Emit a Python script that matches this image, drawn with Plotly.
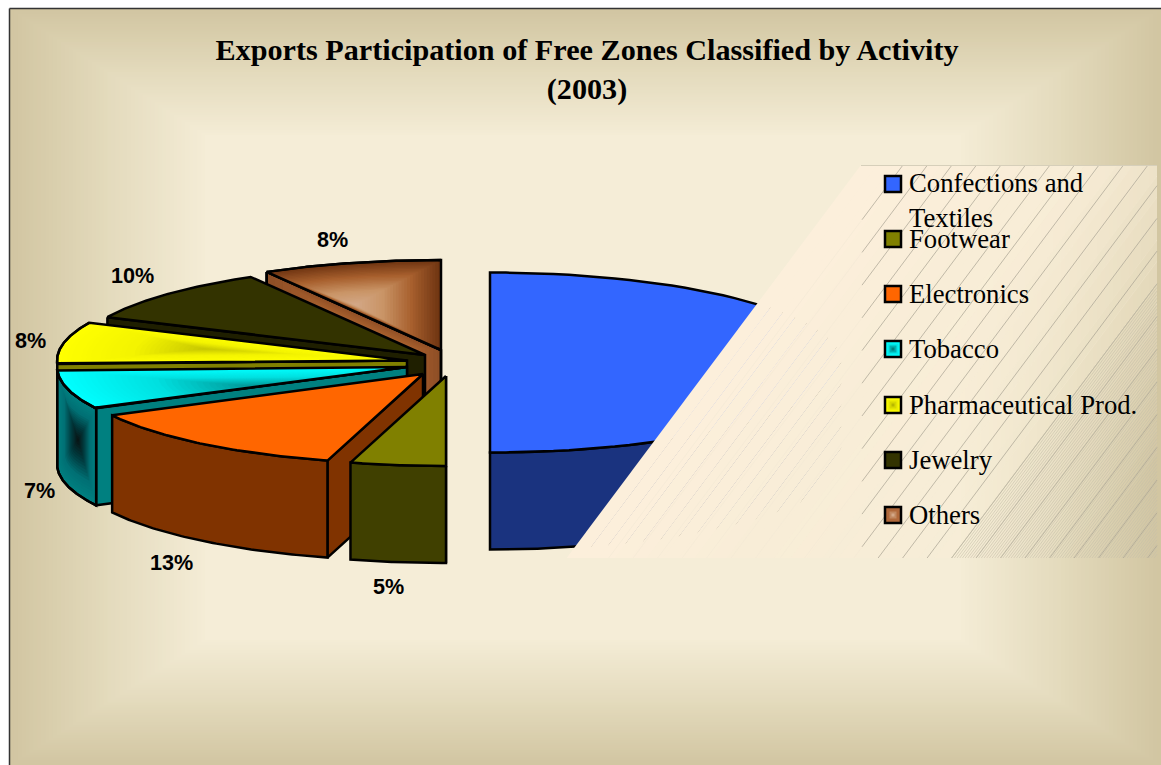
import numpy as np
import plotly.graph_objects as go

TITLE = "<b>Exports Participation of Free Zones Classified by Activity<br>(2003)</b>"
CATEGORIES = ["Confections and<br>Textiles", "Footwear", "Electronics", "Tobacco",
              "Pharmaceutical Prod.", "Jewelry", "Others"]
VALUES = [50.0, 4.4, 13.0, 7.0, 7.5, 9.8, 8.3]
VALUE_LABELS = ["", "5%", "13%", "7%", "8%", "10%", "8%"]

# styles and placement
TOP = ["#3366ff", "#808000", "#ff6600", "#00ffff", "#ffff00", "#333300", "#a8602e"]
SIDE = ["#1a337f", "#404000", "#803300", "#008080", "#808000", "#1f1f00", "#8f4f26"]
APEX = [(490, 362.5), (446, 376), (423, 374), (407, 367), (407, 360.5), (425, 355), (441, 350)]
LABEL_XY = [None, (388, 586), (171, 562), (39, 490), (30, 340), (132, 275), (332, 239)]
SWATCH_Y = [184, 239, 294, 349, 405, 460, 515]
LEGEND_TEXT_Y = [200, 239, 294, 349, 405, 460, 515]
RX, RY, DEPTH = 350, 90, 97
W, H = 1161, 765


def hexrgb(c):
    return np.array([int(c[i:i + 2], 16) for i in (1, 3, 5)], float)


def mix(stops, t):
    n = len(stops) - 1
    i = min(int(t * n), n - 1)
    f = t * n - i
    c = hexrgb(stops[i]) * (1 - f) + hexrgb(stops[i + 1]) * f
    return "rgb(%d,%d,%d)" % tuple(c)


fig = go.Figure()


def poly(xs, ys, fill, line=True, width=2.5):
    fig.add_trace(go.Scatter(x=list(xs), y=list(ys), mode="lines", fill="toself", fillcolor=fill,
                             line=dict(color="black" if line else "rgba(0,0,0,0)",
                                       width=width if line else 0),
                             hoverinfo="skip", showlegend=False))


def shaded(xs, ys, center, stops, n=30):
    xs, ys = np.asarray(xs, float), np.asarray(ys, float)
    poly(xs, ys, stops[0])
    for k in range(1, n + 1):
        s = 1 - k / (n + 0.5)
        poly(center[0] + (xs - center[0]) * s, center[1] + (ys - center[1]) * s,
             mix(stops, k / n), line=False)
    poly(list(xs) + [xs[0]], list(ys) + [ys[0]], "rgba(0,0,0,0)")


def rim(i, t0, t1, dy=0, n=70):
    th = np.radians(np.linspace(t0, t1, n))
    return APEX[i][0] + RX * np.sin(th), APEX[i][1] - RY * np.cos(th) + dy


# background: rectangular path gradient
shapes = []
NB = 50
for k in range(NB + 1):
    t = k / NB
    shapes.append(dict(type="rect", layer="below", xref="x", yref="y",
                       x0=10 + 195 * t, x1=W - 200 * t, y0=9 + 126 * t, y1=H - 125 * t,
                       line=dict(width=0), fillcolor=mix(["#d2c6a2", "#e4dbbd", "#f5edd7"], t)))
shapes.append(dict(type="line", xref="x", yref="y", x0=9.5, x1=9.5, y0=8.5, y1=H,
                   line=dict(color="#333333", width=1.5)))
shapes.append(dict(type="line", xref="x", yref="y", x0=9.5, x1=W, y0=8.5, y1=8.5,
                   line=dict(color="#333333", width=1.5)))

# pie, from back to front
total = sum(VALUES)
edges = np.concatenate([[0], np.cumsum(VALUES)]) * 360.0 / total
for i in [0, 6, 5, 4, 3, 2, 1]:
    t0, t1 = edges[i], edges[i + 1]
    ax, ay = APEX[i]
    rx0, ry0 = rim(i, t0, t0, n=1)
    wx = [rx0[0], rx0[0], ax, ax]
    wy = [ry0[0], ry0[0] + DEPTH, ay + DEPTH, ay]
    if i > 0:
        if i == 6:
            shaded(wx, wy, (385, 345), ["#8f4f26", "#a8602e", "#c88f62"], n=14)
        else:
            poly(wx + wx[:1], wy + wy[:1], SIDE[i])
    a, b = max(t0, 90), min(t1, 270)
    if a < b and i != 4:
        ox, oy = rim(i, a, b)
        ox2, oy2 = rim(i, a, b, dy=DEPTH)
        xs = np.concatenate([ox, ox2[::-1]])
        ys = np.concatenate([oy, oy2[::-1]])
        if i == 3:
            shaded(xs, ys, (78, 440), ["#008080", "#007074", "#003c40", "#0a1414"], n=18)
        else:
            poly(list(xs) + [xs[0]], list(ys) + [ys[0]], SIDE[i])
    tx, ty = rim(i, t0, t1)
    xs = np.concatenate([[ax], tx])
    ys = np.concatenate([[ay], ty])
    if i == 6:
        shaded(xs, ys, (355, 305), ["#6f3512", "#a8602e", "#c99466", "#d4a888"])
    elif i == 4:
        shaded(xs, ys, (205, 349), ["#ffff00", "#f4f400", "#c8c800"])
    elif i == 3:
        shaded(xs, ys, (250, 386), ["#00ffff", "#00e0e0", "#009898"])
    else:
        poly(list(xs) + [xs[0]], list(ys) + [ys[0]], TOP[i])


# legend panel
SLOPE = 1.335
LX0, LX1, LY0, LY1 = 861, 1157, 165, 558


def diag_x(d, y):
    return LX0 + d - (y - LY0) / SLOPE


def clip_right(pts):
    out = []
    for j in range(len(pts)):
        p, q = pts[j], pts[(j + 1) % len(pts)]
        if p[0] <= LX1:
            out.append(p)
        if (p[0] <= LX1) != (q[0] <= LX1):
            f = (LX1 - p[0]) / (q[0] - p[0])
            out.append((LX1, p[1] + f * (q[1] - p[1])))
    return out


dstops = np.linspace(0, 640, 41)
for j in range(40):
    d0, d1 = dstops[j], dstops[j + 1]
    mid = (d0 + d1) / 2
    if mid < 205:
        c = mix(["#fdf0dc", "#f8edd7"], mid / 205)
    else:
        al = max(0.0, 1 - (mid - 205) / 320)
        c = "rgba(248,237,215,%.3f)" % al
    pts = [(diag_x(d0, LY1), LY1), (diag_x(d0, LY0), LY0),
           (diag_x(d1 + 0.4, LY0), LY0), (diag_x(d1 + 0.4, LY1), LY1)]
    pts = clip_right(pts)
    if pts:
        xs, ys = zip(*pts)
        poly(xs + xs[:1], ys + ys[:1], c, line=False)


def hatch(offsets, color, width, xmin, xmax):
    xs, ys = [], []
    for d in offsets:
        y0, y1 = LY0 + 1, LY1
        x0, x1 = diag_x(d, y0), diag_x(d, y1)   # x0 at top (right), x1 at bottom (left)
        if x0 > xmax:
            y0 = LY0 + (LX0 + d - xmax) * SLOPE
            x0 = xmax
        if x1 < xmin:
            y1 = LY0 + (LX0 + d - xmin) * SLOPE
            x1 = xmin
        if y0 < y1:
            xs += [x0, x1, None]
            ys += [y0, y1, None]
    fig.add_trace(go.Scatter(x=xs, y=ys, mode="lines", line=dict(color=color, width=width),
                             hoverinfo="skip", showlegend=False))


hatch(np.arange(42, 720, 24.5), "#a8a292", 0.7, 862, LX1)
hatch(np.arange(42, 300, 24.5), "#f4ead6", 0.7, 560, 861)
hatch(np.arange(385, 720, 2.7), "#c6bfaa", 0.6, 862, LX1)
fig.add_trace(go.Scatter(x=[LX0, LX1], y=[LY0 + 0.5, LY0 + 0.5], mode="lines",
                         line=dict(color="#d6cfba", width=1), hoverinfo="skip", showlegend=False))

# legend swatches
SW_STOPS = {3: ["#00e8e8", "#00b0b0", "#008080"], 4: ["#eeee00", "#d8d800", "#b8b800"],
            6: ["#b0683a", "#c08860", "#d4a888"]}
for i, name in enumerate(CATEGORIES):
    fig.add_trace(go.Scatter(x=[893], y=[SWATCH_Y[i]], mode="markers", name=name.replace("<br>", " "),
                             marker=dict(symbol="square", size=16, color=TOP[i] if i != 6 else "#b0683a",
                                         line=dict(color="black", width=2.5)),
                             hoverinfo="skip", showlegend=False))
    if i in SW_STOPS:
        for k, sz in enumerate([11, 7, 3]):
            fig.add_trace(go.Scatter(x=[893], y=[SWATCH_Y[i]], mode="markers",
                                     marker=dict(symbol="square", size=sz, color=SW_STOPS[i][k]),
                                     hoverinfo="skip", showlegend=False))

annotations = []
for i, name in enumerate(CATEGORIES):
    annotations.append(dict(x=906.5, y=LEGEND_TEXT_Y[i], xref="x", yref="y", text=name, showarrow=False,
                            xanchor="left", yanchor="middle", align="left",
                            font=dict(family="Liberation Serif", size=26.7, color="black")))
    if LABEL_XY[i]:
        annotations.append(dict(x=LABEL_XY[i][0], y=LABEL_XY[i][1], xref="x", yref="y",
                                text="<b>%s</b>" % VALUE_LABELS[i], showarrow=False,
                                font=dict(family="Liberation Sans", size=21.6, color="black")))

fig.update_layout(
    width=W, height=H, margin=dict(l=0, r=0, t=0, b=0), showlegend=False,
    paper_bgcolor="white", plot_bgcolor="white",
    title=dict(text=TITLE, x=587 / W, y=1 - 60 / H, xanchor="center", yanchor="middle",
               font=dict(family="Liberation Serif", size=30.2, color="black")),
    xaxis=dict(range=[0, W], visible=False, fixedrange=True),
    yaxis=dict(range=[H, 0], visible=False, fixedrange=True),
    shapes=shapes, annotations=annotations,
)
fig.write_html("out.html", config=dict(displayModeBar=False),
               post_script="document.body.style.margin='0';")
